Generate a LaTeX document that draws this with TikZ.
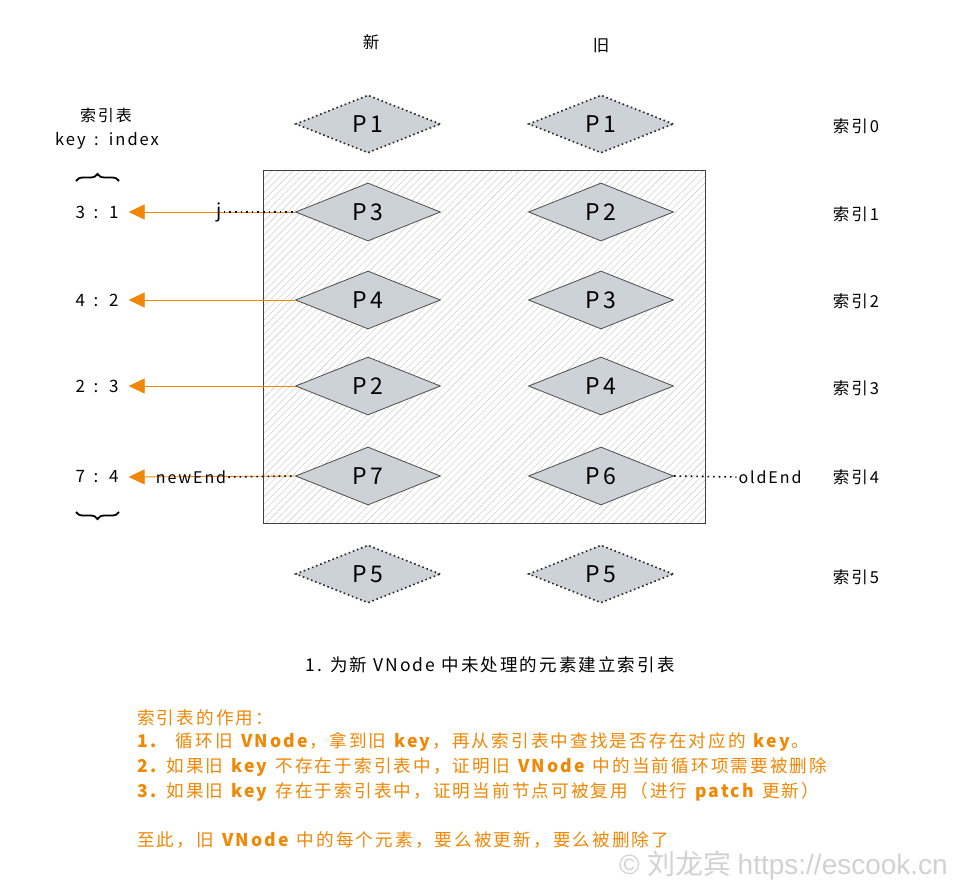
\documentclass[tikz,border=0pt]{standalone}
\usepackage{fontspec}
\setmainfont[LetterSpace=12]{Noto Sans CJK SC}
\newfontfamily\wmfont{Liberation Sans}
\newfontfamily\wmcjk{Noto Sans CJK SC}
\usetikzlibrary{shapes.geometric,arrows.meta,patterns.meta,decorations.pathreplacing}
\definecolor{org}{HTML}{F08705}
\definecolor{dfill}{HTML}{CDD1D8}
\definecolor{dline}{HTML}{4D4D4D}
\begin{document}
\begin{tikzpicture}[x=1pt,y=-1pt,
 dia/.style={diamond,draw=dline,fill=dfill,line width=0.8pt,minimum width=145pt,minimum height=58pt,inner sep=0pt,font=\fontsize{23}{23}\selectfont},
 diadot/.style={dia,dash pattern=on 1.6pt off 2.8pt,line width=1.6pt,draw=black!85},
 lbl/.style={font=\fontsize{16.5}{17}\selectfont},
 kv/.style={font=\fontsize{17}{17}\selectfont,inner xsep=10pt},
 arr/.style={draw=org,line width=0.8pt,-{Triangle[length=16pt,width=15pt]}},
 dots/.style={dash pattern=on 1.6pt off 4pt,line width=1.6pt},
 otext/.style={text=org,anchor=west,inner sep=0pt,font=\fontsize{17.6}{18}\selectfont},
 brc/.style={decorate,decoration={brace,amplitude=7pt},line width=1.8pt},
]
\useasboundingbox (0,0) rectangle (955,888);
\fill[white] (0,0) rectangle (955,888);

% headers
\node[lbl] (hnew) at (371,42) {新};
\node[lbl] (hold) at (601,46) {旧};

% hatched box
\draw[pattern={Lines[angle=45,distance=5pt,line width=0.4pt]},pattern color=gray!45,draw=black!75,line width=0.8pt] (263,170) rectangle (705,523);

% diamonds new
\node[diadot] (n0) at (368,124) {P1};
\node[dia] (n1) at (368,212) {P3};
\node[dia] (n2) at (368,300) {P4};
\node[dia] (n3) at (368,386) {P2};
\node[dia] (n4) at (368,476) {P7};
\node[diadot] (n5) at (368,574) {P5};
% diamonds old
\node[diadot] (o0) at (601,124) {P1};
\node[dia] (o1) at (601,212) {P2};
\node[dia] (o2) at (601,300) {P3};
\node[dia] (o3) at (601,386) {P4};
\node[dia] (o4) at (601,476) {P6};
\node[diadot] (o5) at (601,574) {P5};

% index labels
\node[lbl] (i0) at (856,126) {索引0};
\node[lbl] (i1) at (856,214) {索引1};
\node[lbl] (i2) at (856,301) {索引2};
\node[lbl] (i3) at (856,388) {索引3};
\node[lbl] (i4) at (856,477) {索引4};
\node[lbl] (i5) at (856,577) {索引5};

% index table
\node[font=\fontsize{16}{17}\selectfont] (tt) at (106,115) {索引表};
\node[kv,inner xsep=2pt,font=\fontsize{16.5}{17}\selectfont] (th) at (107,141) {key \,:\, index};
\coordinate (b1a) at (76,181);
\coordinate (b1b) at (119,181);
\draw[brc] (b1a) -- (b1b);
\node[kv] (k1) at (97,212) {3 \,:\, 1};
\node[kv] (k2) at (97,300) {4 \,:\, 2};
\node[kv] (k3) at (97,386) {2 \,:\, 3};
\node[kv] (k4) at (97,477) {7 \,:\, 4};
\coordinate (b2a) at (119,512);
\coordinate (b2b) at (76,512);
\draw[brc] (b2a) -- (b2b);

% arrows
\draw[arr] (n1.west) -- (k1.east);
\draw[arr] (n2.west) -- (k2.east);
\draw[arr] (n3.west) -- (k3.east);
\draw[arr] (n4.west) -- (k4.east);

% pointers
\node[kv,inner xsep=2pt,font=\fontsize{19}{19}\selectfont] (pj) at (219,212) {j};
\draw[dots] (pj.east) -- (n1.west);
\node[kv,inner xsep=2pt,font=\fontsize{16}{16}\selectfont] (pne) at (191,477) {newEnd};
\draw[dots] (pne.east) -- (n4.west);
\node[kv,inner xsep=2pt,font=\fontsize{16}{16}\selectfont] (poe) at (770,477) {oldEnd};
\draw[dots] (o4.east) -- (poe.west);

% caption
\node[font=\fontsize{17.5}{18}\selectfont] (cap) at (490,665) {1. 为新 VNode 中未处理的元素建立索引表};

% orange notes
\node[otext] (t0) at (137,718) {索引表的作用：};
\node[otext] (t1) at (137,742) {\textbf{1.}\quad 循环旧 \textbf{VNode}，拿到旧 \textbf{key}，再从索引表中查找是否存在对应的 \textbf{key}。};
\node[otext] (t2) at (137,767) {\textbf{2.} 如果旧 \textbf{key} 不存在于索引表中，证明旧 \textbf{VNode} 中的当前循环项需要被删除};
\node[otext] (t3) at (137,792) {\textbf{3.} 如果旧 \textbf{key} 存在于索引表中，证明当前节点可被复用（进行 \textbf{patch} 更新）};
\node[otext] (t4) at (137,840) {至此，旧 \textbf{VNode} 中的每个元素，要么被更新，要么被删除了};

% watermark
\node[text=gray!35,anchor=east,inner sep=0pt,font=\fontsize{28}{28}\selectfont] (wm) at (948,866) {\wmfont © \wmcjk 刘龙宾 \wmfont https://escook.cn};
\end{tikzpicture}
\end{document}
